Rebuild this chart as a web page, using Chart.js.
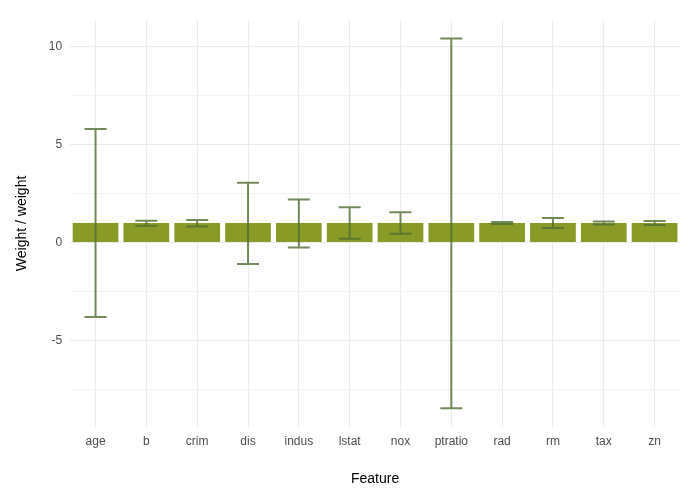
<!DOCTYPE html>
<html><head><meta charset="utf-8">
<script src="https://cdn.jsdelivr.net/npm/chart.js"></script>
<style>html,body{margin:0;background:#fff}#w{width:700px;height:500px}</style>
</head><body><div id="w"><canvas id="c"></canvas></div>
<script>
const features = ["age","b","crim","dis","indus","lstat","nox","ptratio","rad","rm","tax","zn"];
const weights = [1,1,1,1,1,1,1,1,1,1,1,1];
const upper = [5.81,1.12,1.15,3.06,2.2,1.8,1.55,10.43,1.05,1.25,1.08,1.1];
const lower = [-3.81,0.86,0.82,-1.1,-0.25,0.2,0.45,-8.47,0.95,0.75,0.92,0.9];
const yTicks = [-5,0,5,10];

const errPlugin = {
  id:'err',
  afterDatasetsDraw(chart){
    const {ctx, scales:{x,y}} = chart;
    ctx.save();
    ctx.strokeStyle='rgba(80,110,50,0.8)';
    ctx.lineWidth=2;
    features.forEach((f,i)=>{
      const px=x.getPixelForValue(i), t=y.getPixelForValue(upper[i]), b=y.getPixelForValue(lower[i]);
      ctx.beginPath();
      ctx.moveTo(px,t);ctx.lineTo(px,b);
      ctx.moveTo(px-11,t);ctx.lineTo(px+11,t);
      ctx.moveTo(px-11,b);ctx.lineTo(px+11,b);
      ctx.stroke();
    });
    ctx.restore();
  }
};
Chart.defaults.font.family="Liberation Sans, Arial, sans-serif";
new Chart(document.getElementById('c'),{
  type:'bar',
  data:{labels:features,datasets:[{data:weights,backgroundColor:'#8a9a26',categoryPercentage:0.9,barPercentage:1}]},
  options:{
    responsive:true,maintainAspectRatio:false,animation:false,
    layout:{padding:{top:20,right:20,bottom:8,left:10}},
    plugins:{legend:{display:false},tooltip:{enabled:false}},
    scales:{
      x:{grid:{color:'#ebebeb',lineWidth:1,offset:false,drawTicks:false},border:{display:false},
        ticks:{color:'#4d4d4d',font:{size:12},padding:8},
        title:{display:true,text:'Feature',color:'#000',font:{size:14},padding:{top:14}}},
      y:{min:-9.42,max:11.38,grid:{color:(c)=>c.tick&&c.tick.value%5===0?'#ebebeb':'#f3f3f3',drawTicks:false},border:{display:false},
        afterBuildTicks:(s)=>{s.ticks=[-7.5,-5,-2.5,0,2.5,5,7.5,10].map(v=>({value:v}));},
        ticks:{color:'#4d4d4d',font:{size:12},padding:8,callback:(v)=>yTicks.includes(v)?String(v).replace('-','-'):''},
        title:{display:true,text:'Weight / weight',color:'#000',font:{size:14},padding:{bottom:10}}}
    }
  },
  plugins:[errPlugin]
});
</script></body></html>
